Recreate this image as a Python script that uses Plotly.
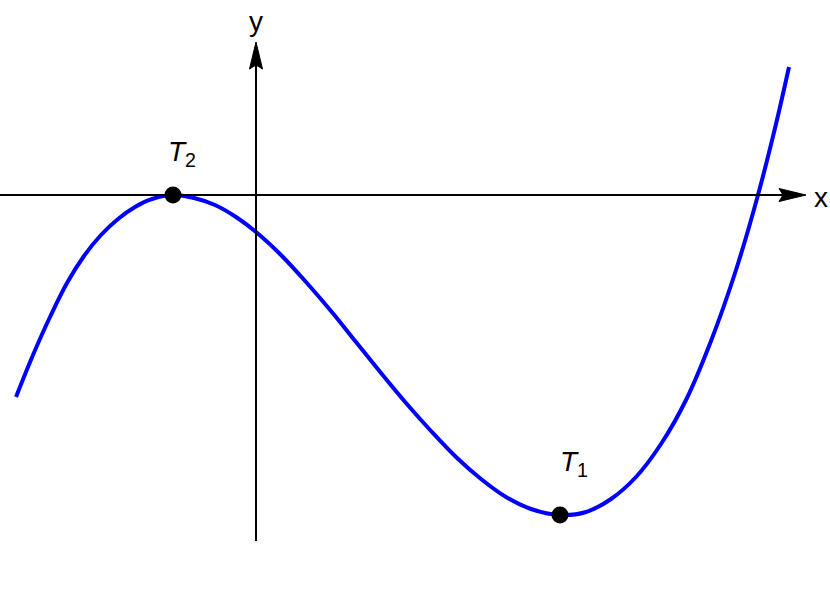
import plotly.graph_objects as go

# точки кривой (начало координат в пересечении осей)
curve_x = [-240, -223, -206, -189, -172, -155, -138, -121, -104, -83, -62, -41, -20, 0,
           25, 50, 75, 100, 125, 150, 175, 200, 225, 250, 275, 304, 330, 355, 380,
           405, 430, 455, 480, 502, 520, 533]
curve_y = [-202, -160, -122, -88, -61, -40, -24, -12, -4, 0, -3, -10, -22, -37,
           -60, -87, -116, -147, -178, -208, -236, -262, -284, -302, -314, -320, -317, -304, -282,
           -249, -205, -146, -75, 0, 71, 128]

# экстремумы
point_subs = ["2", "1"]
point_x = [-83, 304]
point_y = [0, -320]

# пределы осей
x_axis = [-256, 550]
y_axis = [-346, 153]
HEAD_LEN, HEAD_HALF, NOTCH = 27, 6.5, 4

fig = go.Figure()

fig.add_trace(go.Scatter(x=curve_x, y=curve_y, mode="lines",
                         line=dict(color="#0000ff", width=4, shape="spline", smoothing=1),
                         hoverinfo="skip"))
fig.add_trace(go.Scatter(x=point_x, y=point_y, mode="markers",
                         marker=dict(color="black", size=17), hoverinfo="skip"))

# оси со стрелками
tip = x_axis[1]
fig.add_shape(type="line", x0=x_axis[0], y0=0, x1=tip - HEAD_LEN + NOTCH, y1=0,
              line=dict(color="black", width=2))
fig.add_shape(type="path", fillcolor="black", line=dict(color="black", width=1),
              path=f"M{tip},0 L{tip - HEAD_LEN},{HEAD_HALF} L{tip - HEAD_LEN + NOTCH},0 "
                   f"L{tip - HEAD_LEN},{-HEAD_HALF} Z")
tip = y_axis[1]
fig.add_shape(type="line", x0=0, y0=y_axis[0], x1=0, y1=tip - HEAD_LEN + NOTCH,
              line=dict(color="black", width=2))
fig.add_shape(type="path", fillcolor="black", line=dict(color="black", width=1),
              path=f"M0,{tip} L{HEAD_HALF},{tip - HEAD_LEN} L0,{tip - HEAD_LEN + NOTCH} "
                   f"L{-HEAD_HALF},{tip - HEAD_LEN} Z")

font = dict(family="Liberation Sans, Arial", size=28, color="black")
fig.add_annotation(x=565, y=-2, text="x", showarrow=False, font=font)
fig.add_annotation(x=0, y=174, text="y", showarrow=False, font=font)
fig.add_annotation(x=point_x[0] + 9, y=point_y[0] + 42, text=f"<i>T</i><sub>{point_subs[0]}</sub>",
                   showarrow=False, font=font)
fig.add_annotation(x=point_x[1] + 14, y=point_y[1] + 52, text=f"<i>T</i><sub>{point_subs[1]}</sub>",
                   showarrow=False, font=font)

fig.update_xaxes(range=[-256, 574], visible=False)
fig.update_yaxes(range=[-396, 195], visible=False)
fig.update_layout(width=830, height=591, margin=dict(l=0, r=0, t=0, b=0),
                  plot_bgcolor="white", paper_bgcolor="white", showlegend=False)

# убираем отступ страницы, чтобы график встал в угол окна
fig.write_html("out.html", config={"displayModeBar": False},
               post_script="document.body.style.margin='0';")
